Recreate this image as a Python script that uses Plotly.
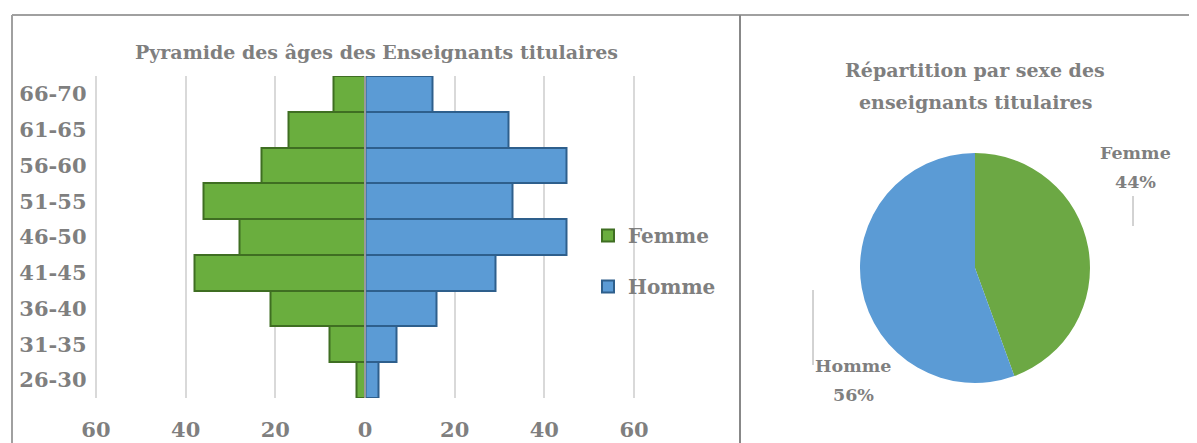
import plotly.graph_objects as go

# --- data -------------------------------------------------------------
age_groups = ["26-30", "31-35", "36-40", "41-45", "46-50",
              "51-55", "56-60", "61-65", "66-70"]
femme = [2, 8, 21, 38, 28, 36, 23, 17, 7]
homme = [3, 7, 16, 29, 45, 33, 45, 32, 15]
x_ticks = [-60, -40, -20, 0, 20, 40, 60]
x_tick_text = ["60", "40", "20", "0", "20", "40", "60"]

pie_labels = ["Femme", "Homme"]
pie_values = [sum(femme), sum(homme)]

W, H = 1197, 443
PAGE_PAD = 8  # the page body adds an 8px margin around the figure
FONT = "DejaVu Serif"
GREY = "#7F7F7F"
GREEN = "#6AAE3E"
BLUE = "#5B9BD5"


def px(x):
    return (x - PAGE_PAD) / W


def py(y):
    return 1 - (y - PAGE_PAD) / H


fig = go.Figure()

# --- age pyramid ------------------------------------------------------
fig.add_trace(go.Bar(
    y=age_groups, x=[-v for v in femme], name="Femme", orientation="h",
    marker=dict(color=GREEN, line=dict(color="#3F6E22", width=2)),
    legendgroup="f",
))
fig.add_trace(go.Bar(
    y=age_groups, x=homme, name="Homme", orientation="h",
    marker=dict(color=BLUE, line=dict(color="#2E5F8C", width=2)),
    legendgroup="h",
))

# --- pie --------------------------------------------------------------
fig.add_trace(go.Pie(
    labels=pie_labels, values=pie_values, sort=False, direction="clockwise",
    rotation=0, textinfo="none", showlegend=False, hoverinfo="label+percent",
    marker=dict(colors=["#6CA844", BLUE], line=dict(width=0)),
    domain=dict(x=[px(860), px(1090)], y=[py(383), py(153)]),
))

total = sum(pie_values)
pcts = [round(v / total * 100) for v in pie_values]


def note(text, x, y, size):
    return dict(text=f"<b>{text}</b>", x=px(x), y=py(y),
                xref="paper", yref="paper",
                xanchor="center", yanchor="middle", showarrow=False,
                font=dict(size=size))


fig.update_layout(
    width=W, height=H,
    margin=dict(l=0, r=0, t=0, b=0, autoexpand=False),
    paper_bgcolor="white", plot_bgcolor="white",
    font=dict(family=FONT, color=GREY, size=19),
    barmode="relative", bargap=0,
    showlegend=True,
    legend=dict(
        x=px(588), y=py(261), xanchor="left", yanchor="middle",
        font=dict(size=20, family=FONT, color=GREY, weight="bold"),
        traceorder="grouped", tracegroupgap=22,
        bgcolor="rgba(0,0,0,0)",
    ),
    xaxis=dict(
        # range padded by 1 unit so the outer gridlines at ±60 are drawn
        domain=[px(91.5), px(638.5)], range=[-61, 61],
        tickvals=x_ticks, ticktext=x_tick_text,
        showgrid=True, gridcolor="#D9D9D9", gridwidth=2,
        zeroline=False, showline=False, ticks="",
        tickfont=dict(size=21, weight="bold"),
        ticklabelstandoff=17, fixedrange=True, automargin=False,
    ),
    yaxis=dict(
        domain=[py(398), py(76)],
        showgrid=False, zeroline=False, showline=False, ticks="",
        tickfont=dict(size=21, weight="bold"),
        ticklabelstandoff=4, fixedrange=True, automargin=False,
    ),
    annotations=[
        note("Pyramide des âges des Enseignants titulaires", 376, 52, 19),
        note("Répartition par sexe des", 975, 70, 19),
        note("enseignants titulaires", 975, 102, 19),
        note(pie_labels[0], 1135, 153, 17.5),
        note(f"{pcts[0]}%", 1135, 182, 17.5),
        note(pie_labels[1], 853, 366, 17.5),
        note(f"{pcts[1]}%", 853, 395, 17.5),
    ],
    shapes=[
        # panel borders
        dict(type="line", xref="paper", yref="paper", x0=px(12), x1=px(1205),
             y0=py(15), y1=py(15), line=dict(color="#A0A0A0", width=2)),
        dict(type="line", xref="paper", yref="paper", x0=px(12), x1=px(12),
             y0=py(15), y1=py(460), line=dict(color="#A0A0A0", width=2)),
        dict(type="line", xref="paper", yref="paper", x0=px(740), x1=px(740),
             y0=py(15), y1=py(460), line=dict(color="#888888", width=2)),
        # centre line of the pyramid
        dict(type="line", xref="x", yref="paper", x0=0, x1=0,
             y0=py(398), y1=py(76), layer="above",
             line=dict(color="#9A9A9A", width=2)),
        # pie leader lines
        dict(type="line", xref="paper", yref="paper", x0=px(1133), x1=px(1133),
             y0=py(196), y1=py(226), line=dict(color="#A6A6A6", width=1)),
        dict(type="line", xref="paper", yref="paper", x0=px(813), x1=px(813),
             y0=py(290), y1=py(365), line=dict(color="#A6A6A6", width=1)),
    ],
)

fig.write_html("out.html")
